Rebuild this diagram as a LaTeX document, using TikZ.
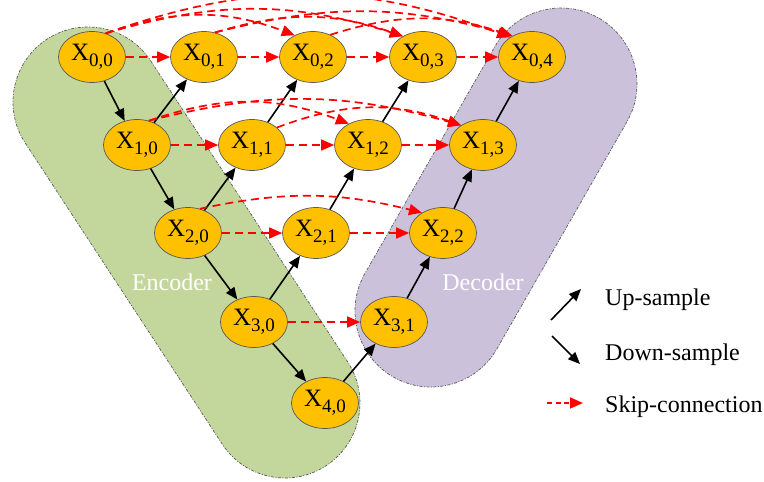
\documentclass[tikz,border=0pt]{standalone}
\usepackage{fontspec}
\setmainfont{Liberation Serif}
\usetikzlibrary{arrows.meta,shapes.geometric}
\definecolor{nodefill}{HTML}{FFC000}
\definecolor{encfill}{HTML}{C3D69B}
\definecolor{decfill}{HTML}{CCC1DA}
\definecolor{skipred}{HTML}{FF0000}
\definecolor{edgegray}{HTML}{595959}

% X with a two-index subscript
\newcommand{\xlab}[2]{X\raisebox{-5.5pt}{\fontsize{19}{19}\selectfont #1,#2}}

\begin{document}
\begin{tikzpicture}[x=1pt,y=1pt,
  unit/.style={ellipse, draw=edgegray, line width=0.7pt, fill=nodefill,
    minimum width=67pt, minimum height=51pt, inner sep=0pt,
    font=\fontsize{25}{25}\selectfont},
  sample/.style={-{Triangle[length=12pt,width=10pt]}, line width=1.6pt, black},
  skip/.style={-{Triangle[length=13pt,width=11pt]}, line width=1.7pt, skipred,
    dash pattern=on 8pt off 5pt},
  capsule/.style={draw=edgegray, line width=0.7pt,
    dash pattern=on 3pt off 1.5pt on 1pt off 1.5pt},
  legendtext/.style={anchor=base west, inner sep=0pt, font=\fontsize{24}{24}\selectfont},
  grouplabel/.style={text=white, inner sep=0pt, font=\fontsize{24}{24}\selectfont}]

\useasboundingbox (0,0) rectangle (764,-482);
\clip (0,0) rectangle (764,-482);

% encoder band
\begin{scope}[shift={(88,-102)}, rotate=-56.8]
  \draw[capsule, fill=encfill] (0,75) -- (359.7,75)
    arc[start angle=90, end angle=-90, radius=75] -- (0,-75)
    arc[start angle=-90, end angle=-270, radius=75] -- cycle;
\end{scope}
% decoder band
\begin{scope}[shift={(561,-84)}, rotate=-119.8]
  \draw[capsule, fill=decfill] (0,76) -- (261.6,76)
    arc[start angle=90, end angle=-90, radius=76] -- (0,-76)
    arc[start angle=-90, end angle=-270, radius=76] -- cycle;
\end{scope}

\node[grouplabel] (enc) at (172,-282) {Encoder};
\node[grouplabel] (dec) at (483,-282) {Decoder};

% nested units
\node[unit] (x00) at (92,-57)  {\xlab00};
\node[unit] (x01) at (204,-57) {\xlab01};
\node[unit] (x02) at (313,-57) {\xlab02};
\node[unit] (x03) at (423,-57) {\xlab03};
\node[unit] (x04) at (532,-57) {\xlab04};
\node[unit] (x10) at (137,-145) {\xlab10};
\node[unit] (x11) at (252,-145) {\xlab11};
\node[unit] (x12) at (368,-145) {\xlab12};
\node[unit] (x13) at (483,-145) {\xlab13};
\node[unit] (x20) at (188,-233) {\xlab20};
\node[unit] (x21) at (316,-233) {\xlab21};
\node[unit] (x22) at (443,-233) {\xlab22};
\node[unit] (x30) at (254,-322) {\xlab30};
\node[unit] (x31) at (394,-322) {\xlab31};
\node[unit] (x40) at (325,-403) {\xlab40};

% down-sampling path
\draw[sample] (x00) -- (x10);
\draw[sample] (x10) -- (x20);
\draw[sample] (x20) -- (x30);
\draw[sample] (x30) -- (x40);
% up-sampling paths
\draw[sample] (x10) -- (x01);
\draw[sample] (x20) -- (x11);
\draw[sample] (x11) -- (x02);
\draw[sample] (x30) -- (x21);
\draw[sample] (x21) -- (x12);
\draw[sample] (x12) -- (x03);
\draw[sample] (x40) -- (x31);
\draw[sample] (x31) -- (x22);
\draw[sample] (x22) -- (x13);
\draw[sample] (x13) -- (x04);

% plain skip connections
\draw[skip] (x00) -- (x01);
\draw[skip] (x01) -- (x02);
\draw[skip] (x02) -- (x03);
\draw[skip] (x03) -- (x04);
\draw[skip] (x10) -- (x11);
\draw[skip] (x11) -- (x12);
\draw[skip] (x12) -- (x13);
\draw[skip] (x20) -- (x21);
\draw[skip] (x21) -- (x22);
\draw[skip] (x30) -- (x31);

% dense skip connections
\draw[skip] (x00.60) to[bend left=20] (x02.130);
\draw[skip] (x00.60) to[bend left=17] (x03.134);
\draw[skip] (x00.60) to[bend left=20] (x04.138);
\draw[skip] (x01.66) to[bend left=18] (x03.134);
\draw[skip] (x01.66) to[bend left=15] (x04.133);
\draw[skip] (x02.52) to[bend left=18] (x04.133);
\draw[skip] (x10.64) to[bend left=20] (x12.132);
\draw[skip] (x10.64) to[bend left=15] (x13.138);
\draw[skip] (x11.35) to[bend left=20] (x13.138);
\draw[skip] (x20.64) to[bend left=13] (x22.136);

% legend
\coordinate (upA) at (551,-320);
\coordinate (upB) at (581,-289);
\coordinate (dnA) at (552,-336);
\coordinate (dnB) at (580,-364);
\coordinate (skA) at (547,-403);
\coordinate (skB) at (583,-403);
\draw[sample] (upA) -- (upB);
\draw[sample] (dnA) -- (dnB);
\draw[skip, dash pattern=on 5pt off 3.5pt] (skA) -- (skB);
\node[legendtext] (lup) at (605,-305) {Up-sample};
\node[legendtext] (ldn) at (605,-360) {Down-sample};
\node[legendtext] (lsk) at (605,-412) {Skip-connection};
\end{tikzpicture}
\end{document}
